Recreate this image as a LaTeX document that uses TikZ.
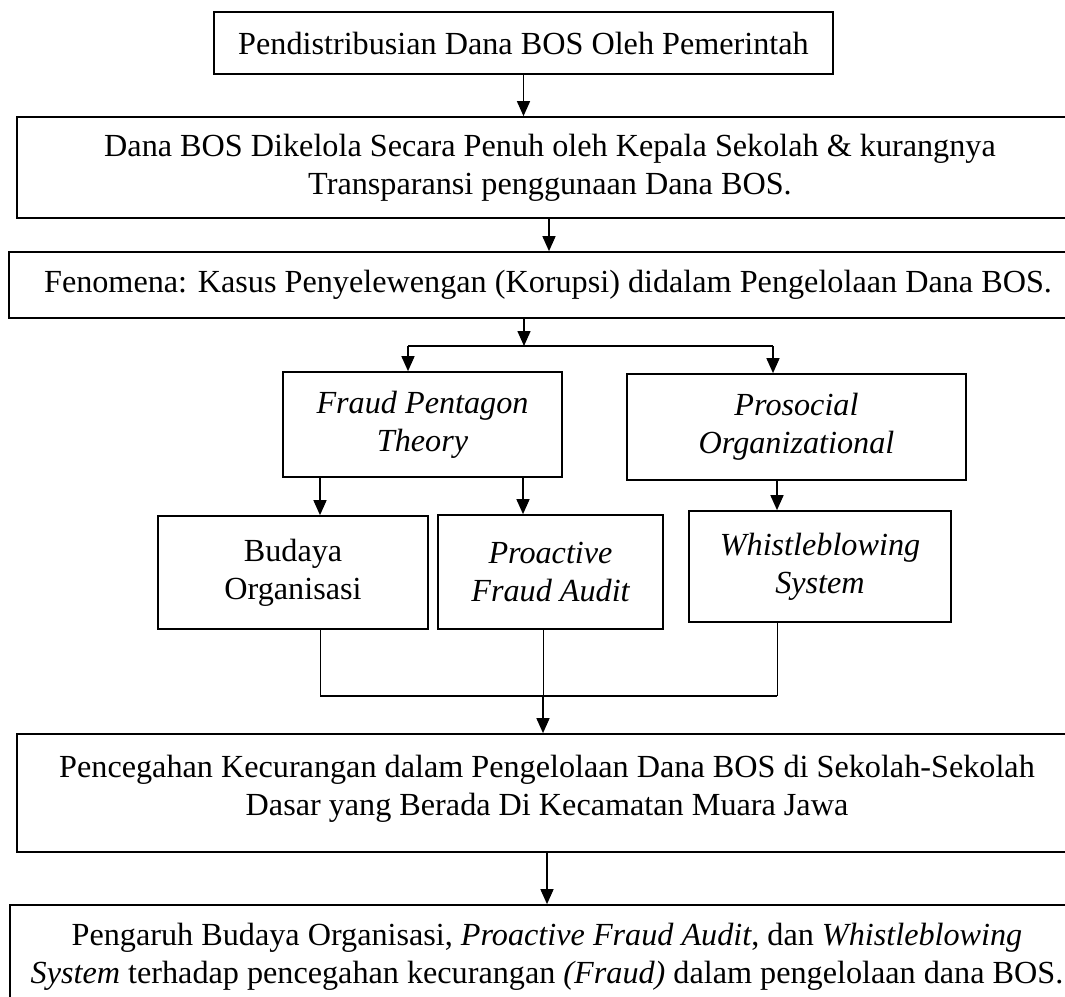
\documentclass[tikz,border=0pt]{standalone}
\usepackage{fontspec}
\setmainfont{Liberation Serif}
\usetikzlibrary{arrows.meta}
\begin{document}
\begin{tikzpicture}[x=1pt,y=1pt,
  box/.style={draw, line width=1.7pt, rectangle, inner sep=0pt, align=center,
    font=\fontsize{32.2}{38}\selectfont},
  arr/.style={line width=1.5pt, -{Triangle[length=15pt,width=13pt]}},
  link/.style={line width=1pt},
  bar/.style={line width=1.9pt}]
\clip (0,0) rectangle (1065,-996);
\fill[white] (0,0) rectangle (1065,-996);

% boxes: centre and size in pixels, y measured downward
\node[box, minimum width=619pt, minimum height=62pt] (b1) at (523.5,-43)
  {Pendistribusian Dana BOS Oleh Pemerintah};
\node[box, minimum width=1066pt, minimum height=101pt] (b2) at (550,-167.5)
  {Dana BOS Dikelola Secara Penuh oleh Kepala Sekolah \& kurangnya\\
   Transparansi penggunaan Dana BOS.};
\node[box, minimum width=1078pt, minimum height=66pt] (b3) at (548,-285)
  {Fenomena: Kasus Penyelewengan (Korupsi) didalam Pengelolaan Dana BOS.};
\node[box, minimum width=279pt, minimum height=105pt] (fpt) at (422.5,-424.5)
  {\itshape Fraud Pentagon\\ \itshape Theory};
\node[box, minimum width=339pt, minimum height=106pt] (pro) at (796.5,-427)
  {\itshape Prosocial\\ \itshape Organizational};
\node[box, minimum width=270pt, minimum height=113pt] (bud) at (293,-572.5)
  {Budaya\\ Organisasi};
\node[box, minimum width=225pt, minimum height=114pt] (pfa) at (550.5,-572)
  {\itshape Proactive\\ \itshape Fraud Audit};
\node[box, minimum width=262pt, minimum height=111pt] (wbs) at (820,-566.5)
  {\itshape Whistleblowing\\ \itshape System};
\node[box, minimum width=1060pt, minimum height=118pt] (b5) at (547,-793)
  {Pencegahan Kecurangan dalam Pengelolaan Dana BOS di Sekolah-Sekolah\\
   Dasar yang Berada Di Kecamatan Muara Jawa\\[-22pt]};
\node[box, minimum width=1074pt, minimum height=104pt] (b6) at (547,-957)
  {Pengaruh Budaya Organisasi, \textit{Proactive Fraud Audit}, dan \textit{Whistleblowing}\\
   \textit{System} terhadap pencegahan kecurangan \textit{(Fraud)} dalam pengelolaan dana BOS.};

% connector positions
\coordinate (j)  at (524,-346);
\coordinate (jl) at (408,-346);
\coordinate (jr) at (773,-346);
\coordinate (c1) at (320,0);
\coordinate (c2) at (523,0);
\coordinate (c3) at (777,0);
\coordinate (m)  at (543,-696);
\coordinate (c4) at (547,0);

% top chain
\draw[arr] (b1.south) -- (b1.south |- b2.north);
\draw[arr] (b2.south -| 549,0) -- (b3.north -| 549,0);
\draw[arr] (b3.south -| j) -- (j);
\draw[line width=1.5pt] (jl) -- (jr);
\draw[arr] (jl) -- (jl |- fpt.north);
\draw[arr] (jr) -- (jr |- pro.north);

% theories to variables
\draw[arr] (fpt.south -| c1) -- (bud.north -| c1);
\draw[arr] (fpt.south -| c2) -- (pfa.north -| c2);
\draw[arr] (pro.south -| c3) -- (wbs.north -| c3);

% variables merge into prevention
\draw[link] (bud.south -| c1) -- (c1 |- m);
\draw[link] (pfa.south -| m) -- (m);
\draw[link] (wbs.south -| c3) -- (c3 |- m);
\draw[bar] (c1 |- m) -- (c3 |- m);
\draw[arr] (m) -- (m |- b5.north);
\draw[arr] (b5.south -| c4) -- (b6.north -| c4);
\end{tikzpicture}
\end{document}
